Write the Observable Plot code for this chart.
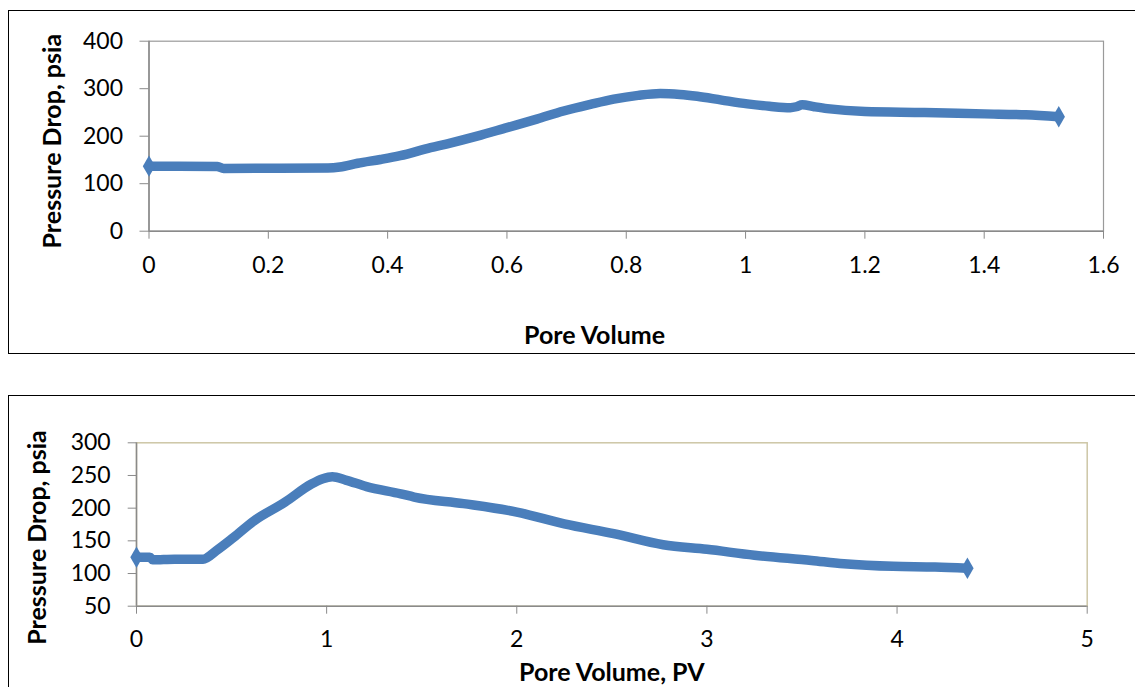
<!DOCTYPE html>
<html>
<head>
<meta charset="utf-8">
<script src="https://cdn.jsdelivr.net/npm/d3@7"></script>
<script src="https://cdn.jsdelivr.net/npm/@observablehq/plot@0.6"></script>
<style>
  html, body { margin: 0; padding: 0; background: #fff; overflow: hidden; width: 1135px; height: 687px; }
  .frame { position: absolute; border: 1.5px solid #000; box-sizing: border-box; }
  .chart { position: absolute; left: 0; }
  svg { background: transparent !important; overflow: visible; }
</style>
</head>
<body>
<div class="frame" style="left:8px; top:10px; width:1140px; height:344px;"></div>
<div class="frame" style="left:8px; top:395px; width:1140px; height:310px;"></div>
<div id="c1" class="chart" style="top:0px;"></div>
<div id="c2" class="chart" style="top:355px;"></div>
<script>
// ---- Top chart data ----
const topPV = [0, 0.05, 0.115, 0.125, 0.2, 0.3, 0.32, 0.35, 0.388, 0.421, 0.472, 0.5, 0.55, 0.6, 0.65, 0.695, 0.74, 0.779, 0.82, 0.857, 0.89, 0.919, 0.96, 1.003, 1.04, 1.075, 1.085, 1.095, 1.115, 1.137, 1.2, 1.3, 1.4, 1.47, 1.525];
const topDP = [137, 137, 136, 132, 132.5, 133, 135, 143, 151, 159, 176, 184, 200, 218, 236, 253, 267, 278, 286, 290, 288, 284, 276, 268, 263, 260, 262, 266, 262, 258, 252, 250, 247, 245, 241];
const topXTicks = [0, 0.2, 0.4, 0.6, 0.8, 1, 1.2, 1.4, 1.6];
const topYTicks = [0, 100, 200, 300, 400];
const topXLabel = "Pore Volume";
const topYLabel = "Pressure Drop, psia";

// ---- Bottom chart data ----
const botPV = [0, 0.07, 0.085, 0.2, 0.35, 0.42, 0.51, 0.62, 0.78, 0.92, 0.98, 1.03, 1.1, 1.21, 1.39, 1.46, 1.72, 2.0, 2.25, 2.51, 2.77, 3.0, 3.25, 3.55, 3.72, 3.98, 4.2, 4.37];
const botDP = [125, 125, 121, 122, 122, 135, 155, 181, 209, 237, 245, 248, 243, 233, 222, 217, 207, 194, 176, 161, 144, 137, 128, 120, 115, 111, 110, 108];
const botXTicks = [0, 1, 2, 3, 4, 5];
const botYTicks = [50, 100, 150, 200, 250, 300];
const botXLabel = "Pore Volume, PV";
const botYLabel = "Pressure Drop, psia";

const BLUE = "#4A7EBB";
const FONT = "Lato, 'Open Sans', sans-serif";
const fmt = d3.format("~g");

const topData = topPV.map((x, i) => ({x, y: topDP[i]}));
const botData = botPV.map((x, i) => ({x, y: botDP[i]}));

const ends = (arr) => [arr[0], arr[arr.length - 1]];

const p1 = Plot.plot({
  width: 1135, height: 355,
  marginLeft: 148.5, marginRight: 32, marginTop: 40.7, marginBottom: 124.3,
  style: {fontFamily: FONT, color: "#000", background: "transparent"},
  x: {domain: [topXTicks[0], topXTicks[topXTicks.length - 1]]},
  y: {domain: [topYTicks[0], topYTicks[topYTicks.length - 1]]},
  marks: [
    Plot.frame({stroke: "#9a9a9a", strokeWidth: 1.2}),
    Plot.ruleY([topYTicks[0]], {stroke: "#8a8a8a", strokeWidth: 1.5}),
    Plot.ruleX([topXTicks[0]], {stroke: "#8a8a8a", strokeWidth: 1.5}),
    Plot.axisX({ticks: topXTicks, tickFormat: fmt, tickSize: 8, tickPadding: 17, stroke: "#8a8a8a", fill: "#000", fontSize: 23, label: null}),
    Plot.axisY({ticks: topYTicks, tickFormat: fmt, tickSize: 9, tickPadding: 17, stroke: "#8a8a8a", fill: "#000", fontSize: 23, label: null}),
    Plot.line(topData, {x: "x", y: "y", stroke: BLUE, strokeWidth: 9.5, strokeLinejoin: "round", curve: "monotone-x"}),
    Plot.dot(ends(topData), {x: "x", y: "y", symbol: "diamond", r: 6.5, fill: BLUE, stroke: null}),
    Plot.text([topXLabel], {frameAnchor: "bottom", lineAnchor: "middle", dx: -31.7, dy: 104.3, fontSize: 25, fontWeight: "bold", fill: "#000"}),
    Plot.text([topYLabel], {frameAnchor: "left", textAnchor: "middle", lineAnchor: "middle", rotate: -90, dx: -96, dy: 5, fontSize: 25, fontWeight: "bold", fill: "#000"})
  ]
});
document.getElementById("c1").appendChild(p1);

const p2 = Plot.plot({
  width: 1135, height: 332,
  marginLeft: 136, marginRight: 48.3, marginTop: 87.3, marginBottom: 81.3,
  style: {fontFamily: FONT, color: "#000", background: "transparent"},
  x: {domain: [botXTicks[0], botXTicks[botXTicks.length - 1]]},
  y: {domain: [botYTicks[0], botYTicks[botYTicks.length - 1]]},
  marks: [
    Plot.frame({stroke: "#cdc6a6", strokeWidth: 1.5}),
    Plot.ruleY([botYTicks[0]], {stroke: "#8a8a8a", strokeWidth: 1.5}),
    Plot.ruleX([botXTicks[0]], {stroke: "#8a8a8a", strokeWidth: 1.5}),
    Plot.axisX({ticks: botXTicks, tickFormat: fmt, tickSize: 8, tickPadding: 16, stroke: "#8a8a8a", fill: "#000", fontSize: 23, label: null}),
    Plot.axisY({ticks: botYTicks, tickFormat: fmt, tickSize: 8.3, tickPadding: 17.5, stroke: "#8a8a8a", fill: "#000", fontSize: 23, label: null}),
    Plot.line(botData, {x: "x", y: "y", stroke: BLUE, strokeWidth: 9.5, strokeLinejoin: "round", curve: "monotone-x"}),
    Plot.dot(ends(botData), {x: "x", y: "y", symbol: "diamond", r: 6.5, fill: BLUE, stroke: null}),
    Plot.text([botXLabel], {frameAnchor: "bottom", lineAnchor: "middle", dy: 66.3, fontSize: 25, fontWeight: "bold", fill: "#000"}),
    Plot.text([botYLabel], {frameAnchor: "left", textAnchor: "middle", lineAnchor: "middle", rotate: -90, dx: -99, dy: 13, fontSize: 25, fontWeight: "bold", fill: "#000"})
  ]
});
document.getElementById("c2").appendChild(p2);
</script>
</body>
</html>
